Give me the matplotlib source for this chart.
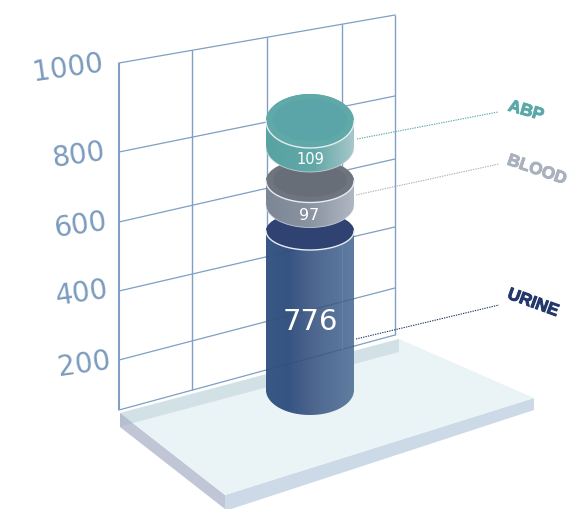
import numpy as np
import matplotlib
matplotlib.use("Agg")
import matplotlib.pyplot as plt
import matplotlib.patheffects as pe
from matplotlib.patches import Polygon, Ellipse
from matplotlib.colors import to_rgb

# ---- data ----
categories = ["URINE", "BLOOD", "ABP"]
values = [776, 97, 109]
tick_values = [200, 400, 600, 800, 1000]
tick_labels = ["200", "400", "600", "800", "1000"]

# ---- faux-3D projection (pixel layout) ----
W, H = 569, 509
scale_v = [0, 200, 400, 600, 800, 1000]
wall_left_y = [410, 360, 291, 222, 152, 63]
wall_right_y = [335, 288, 227, 159, 96, 15]
wall_x0, wall_x1 = 119, 395
vert_x = [119, 192, 267, 342, 395]

# cumulative value -> centre height of each cylinder's top ellipse
stack_v = [776, 873, 982]
stack_y = [231, 181, 121]
top_ry = [19, 21.5, 27]
base_y = [390, 205, 147]
base_ry = [25, 22.5, 25]
cx, rx = 310, 44

fig = plt.figure(figsize=(W / 100, H / 100), dpi=100)
ax = fig.add_axes([0, 0, 1, 1])
ax.set_xlim(0, W)
ax.set_ylim(H, 0)
ax.axis("off")


def wall_y(v, x):
    y0 = np.interp(v, scale_v, wall_left_y)
    y1 = np.interp(v, scale_v, wall_right_y)
    return y0 + (y1 - y0) * (x - wall_x0) / (wall_x1 - wall_x0)


def arc(yc, ry, a, b, n=80):
    t = np.linspace(a, b, n)
    return np.column_stack([cx + rx * np.cos(t), yc + ry * np.sin(t)])


def gradient(clip, stops, alpha=1.0, z=3):
    pos = [s[0] for s in stops]
    cols = np.array([to_rgb(s[1]) for s in stops])
    xs = np.linspace(0, 1, 200)
    rgb = np.stack([np.interp(xs, pos, cols[:, i]) for i in range(3)], axis=-1)
    rgba = np.dstack([rgb[None, :, :], np.full((1, 200), alpha)])
    im = ax.imshow(rgba, extent=(cx - rx, cx + rx, 450, 50), aspect="auto",
                   zorder=z, interpolation="bilinear")
    p = Polygon(clip, closed=True, transform=ax.transData)
    im.set_clip_path(p)
    return im


# platform
ax.add_patch(Polygon([(120, 413), (225, 495), (225, 509), (120, 427)], fc="#c0c6d6", ec="none", zorder=1))
ax.add_patch(Polygon([(225, 495), (534, 398), (534, 410), (225, 511)], fc="#ccd9e6", ec="none", zorder=1))
ax.add_patch(Polygon([(120, 413), (399, 339), (534, 398), (225, 495)], fc="#eaf3f5", ec="none", zorder=1.1))
ax.add_patch(Polygon([(120, 413), (399, 339), (399, 352), (133, 423)], fc="#d2e1e6", ec="none", zorder=1.2))
ax.add_patch(Polygon([(120, 413), (133, 423), (120, 427)], fc="#b4c0d0", ec="none", zorder=1.2))

# grid on the back wall
grid_c = "#7f9fc4"
for v in scale_v:
    xs = np.array([wall_x0, wall_x1])
    ax.plot(xs, wall_y(v, xs), color=grid_c, lw=0.9, zorder=2)
for x in vert_x:
    ax.plot([x, x], [wall_y(1000, x), wall_y(0, x)], color=grid_c,
            lw=1.5 if x == wall_x0 else 1.0, zorder=2, solid_capstyle="butt")

# tick labels
tick_pos = [(84, 364), (82, 293), (80, 225), (78, 155), (68, 68)]
for lab, (x, y) in zip(tick_labels, tick_pos):
    ax.text(x, y, lab, fontsize=20, color="#7b9bbd", ha="center", va="center",
            rotation=8, rotation_mode="anchor", family="DejaVu Sans", zorder=2)

# cylinders
body_stops = [
    [(0, "#3a5886"), (0.25, "#365482"), (0.55, "#4f678f"), (1, "#5f7da1")],
    [(0, "#7c8695"), (0.5, "#8a93a1"), (1, "#b0b7c3")],
    [(0, "#58a3a2"), (0.55, "#62a8a8"), (1, "#a6c7ca")],
]
top_outer = ["#2f4272", "#6f757f", "#60a9a9"]
top_inner = ["#2f4272", "#686e78", "#5ba4a7"]
cum = np.cumsum(values)
for i, val in enumerate(values):
    z = 3 + i
    y_top = np.interp(cum[i], stack_v, stack_y)
    y_base = base_y[i]
    ry_top = top_ry[i]
    ry_b = base_ry[i]
    body = np.vstack([arc(y_base, ry_b, 0, np.pi), arc(y_top, ry_top, np.pi, 2 * np.pi)])
    gradient(body, body_stops[i], 1.0, z=z)
    # grid lines faintly seen through the urine body
    if i == 0:
        for v in scale_v[:3]:
            xs = np.array([cx - rx, cx + rx])
            ax.plot(xs, wall_y(v, xs), color="#2f4a78", lw=0.7, alpha=0.45, zorder=z + 0.1)
        ax.plot([342, 342], [wall_y(600, 342), wall_y(0, 342)], color="#7f9fc4", lw=0.7, alpha=0.3, zorder=z + 0.1)
    else:
        lip = arc(y_base, ry_b, 0, np.pi)
        ax.plot(lip[:, 0], lip[:, 1], color="#d8dee6", lw=0.6, alpha=0.8, zorder=z + 0.1)
    ax.add_patch(Ellipse((cx, y_top), 2 * rx, 2 * ry_top, fc=top_outer[i], ec="none", zorder=z + 0.2))
    ax.add_patch(Ellipse((cx, y_top - 1), 2 * rx * 0.84, 2 * ry_top * 0.78, fc=top_inner[i], ec="none", zorder=z + 0.3))
    front = arc(y_top, ry_top, 0, np.pi)
    ax.plot(front[:, 0], front[:, 1], color="#e6ecf2", lw=1.0, zorder=z + 0.4)

# value labels
val_pos = [(310, 322), (309, 215), (310, 160)]
val_size = [21, 11.5, 10.5]
for val, (x, y), s in zip(values, val_pos, val_size):
    ax.text(x, y, str(val), color="white", fontsize=s, ha="center", va="center",
            family="DejaVu Sans", zorder=10)

# leader lines and category labels
cat_colors = ["#25386b", "#a9b1bc", "#5aa9a8"]
line_ends = [((356, 339), (499, 305)), ((356, 195), (499, 164)), ((357, 139), (498, 112))]
label_pos = [(533, 303), (537, 170), (526, 111)]
label_rot = [-20, -19, -16]
for c, col, (a, b), p, r in zip(categories, cat_colors, line_ends, label_pos, label_rot):
    ax.plot([a[0], b[0]], [a[1], b[1]], color=col, lw=0.8, ls=(0, (1.2, 1)), zorder=2)
    t = ax.text(p[0], p[1], c, color=col, fontsize=12.3, fontweight="bold", ha="center", va="center",
                rotation=r, rotation_mode="anchor", family="Liberation Sans", zorder=10)
    t.set_path_effects([pe.withStroke(linewidth=0.7, foreground=col)])

fig.savefig("out.png", dpi=100)
